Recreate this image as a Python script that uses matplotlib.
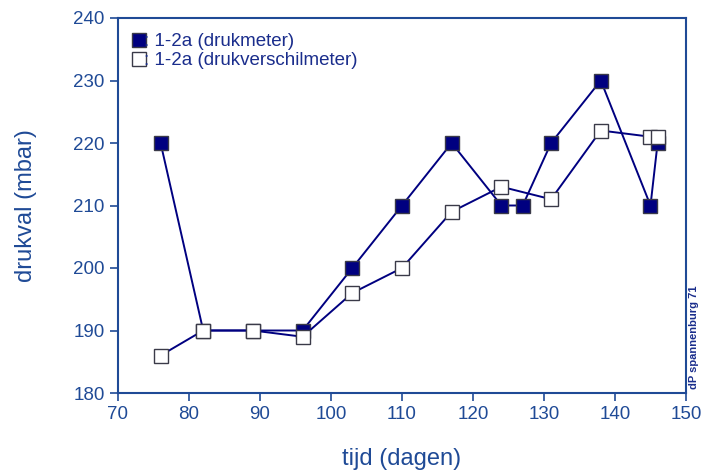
import matplotlib
matplotlib.use('Agg')
import matplotlib.pyplot as plt
from matplotlib.lines import Line2D

plt.rcParams['font.family'] = ['Liberation Sans', 'DejaVu Sans']

# drukmeter (filled squares)
t_druk = [76, 82, 89, 96, 103, 110, 117, 124, 127, 131, 138, 145, 146]
p_druk = [220, 190, 190, 190, 200, 210, 220, 210, 210, 220, 230, 210, 220]

# drukverschilmeter (open squares)
t_verschil = [76, 82, 89, 96, 103, 110, 117, 124, 131, 138, 145, 146]
p_verschil = [186, 190, 190, 189, 196, 200, 209, 213, 211, 222, 221, 221]

axis_blue = '#1f4a96'
navy = '#000080'
edge = '#3a3a48'

fig = plt.figure(figsize=(7.01, 4.76), dpi=100)
ax = fig.add_axes([118 / 701, 1 - 393 / 476, (686 - 118) / 701, (393 - 18) / 476])

ax.plot(t_druk, p_druk, color=navy, lw=1.4, marker='s', markersize=10,
        markerfacecolor=navy, markeredgecolor=edge, markeredgewidth=1.0, zorder=3)
ax.plot(t_verschil, p_verschil, color=navy, lw=1.4, marker='s', markersize=10,
        markerfacecolor='white', markeredgecolor=edge, markeredgewidth=1.0, zorder=4)

ax.set_xlim(70, 150)
ax.set_ylim(180, 240)
ax.set_xticks(range(70, 151, 10))
ax.set_yticks(range(180, 241, 10))

for s in ax.spines.values():
    s.set_color(axis_blue)
    s.set_linewidth(1.5)
ax.tick_params(direction='out', length=6, width=1.2, color=axis_blue,
               labelcolor=axis_blue, labelsize=13.5)
ax.tick_params(top=False, right=False)

ax.set_xlabel('tijd (dagen)', fontsize=17, color=axis_blue, labelpad=18)
ax.set_ylabel('drukval (mbar)', fontsize=17, color=axis_blue, labelpad=26)

handles = [
    Line2D([], [], ls='none', marker='s', markersize=10, markerfacecolor=navy,
           markeredgecolor=edge),
    Line2D([], [], ls='none', marker='s', markersize=10, markerfacecolor='white',
           markeredgecolor=edge),
]
leg = ax.legend(handles, [': 1-2a (drukmeter)', ': 1-2a (drukverschilmeter)'],
                loc='upper left', bbox_to_anchor=(0.0, 1.0), frameon=False,
                fontsize=13.5, handlelength=0.6, handletextpad=0.0,
                labelspacing=0.1, borderaxespad=0.4)
for txt in leg.get_texts():
    txt.set_color('#1a2d8c')

fig.text(694 / 701, 1 - 337 / 476, 'dP spannenburg 71', rotation=90,
         fontsize=8, fontweight='bold', color='#1a2d8c', ha='center', va='center')

fig.savefig('out.png', dpi=100)
